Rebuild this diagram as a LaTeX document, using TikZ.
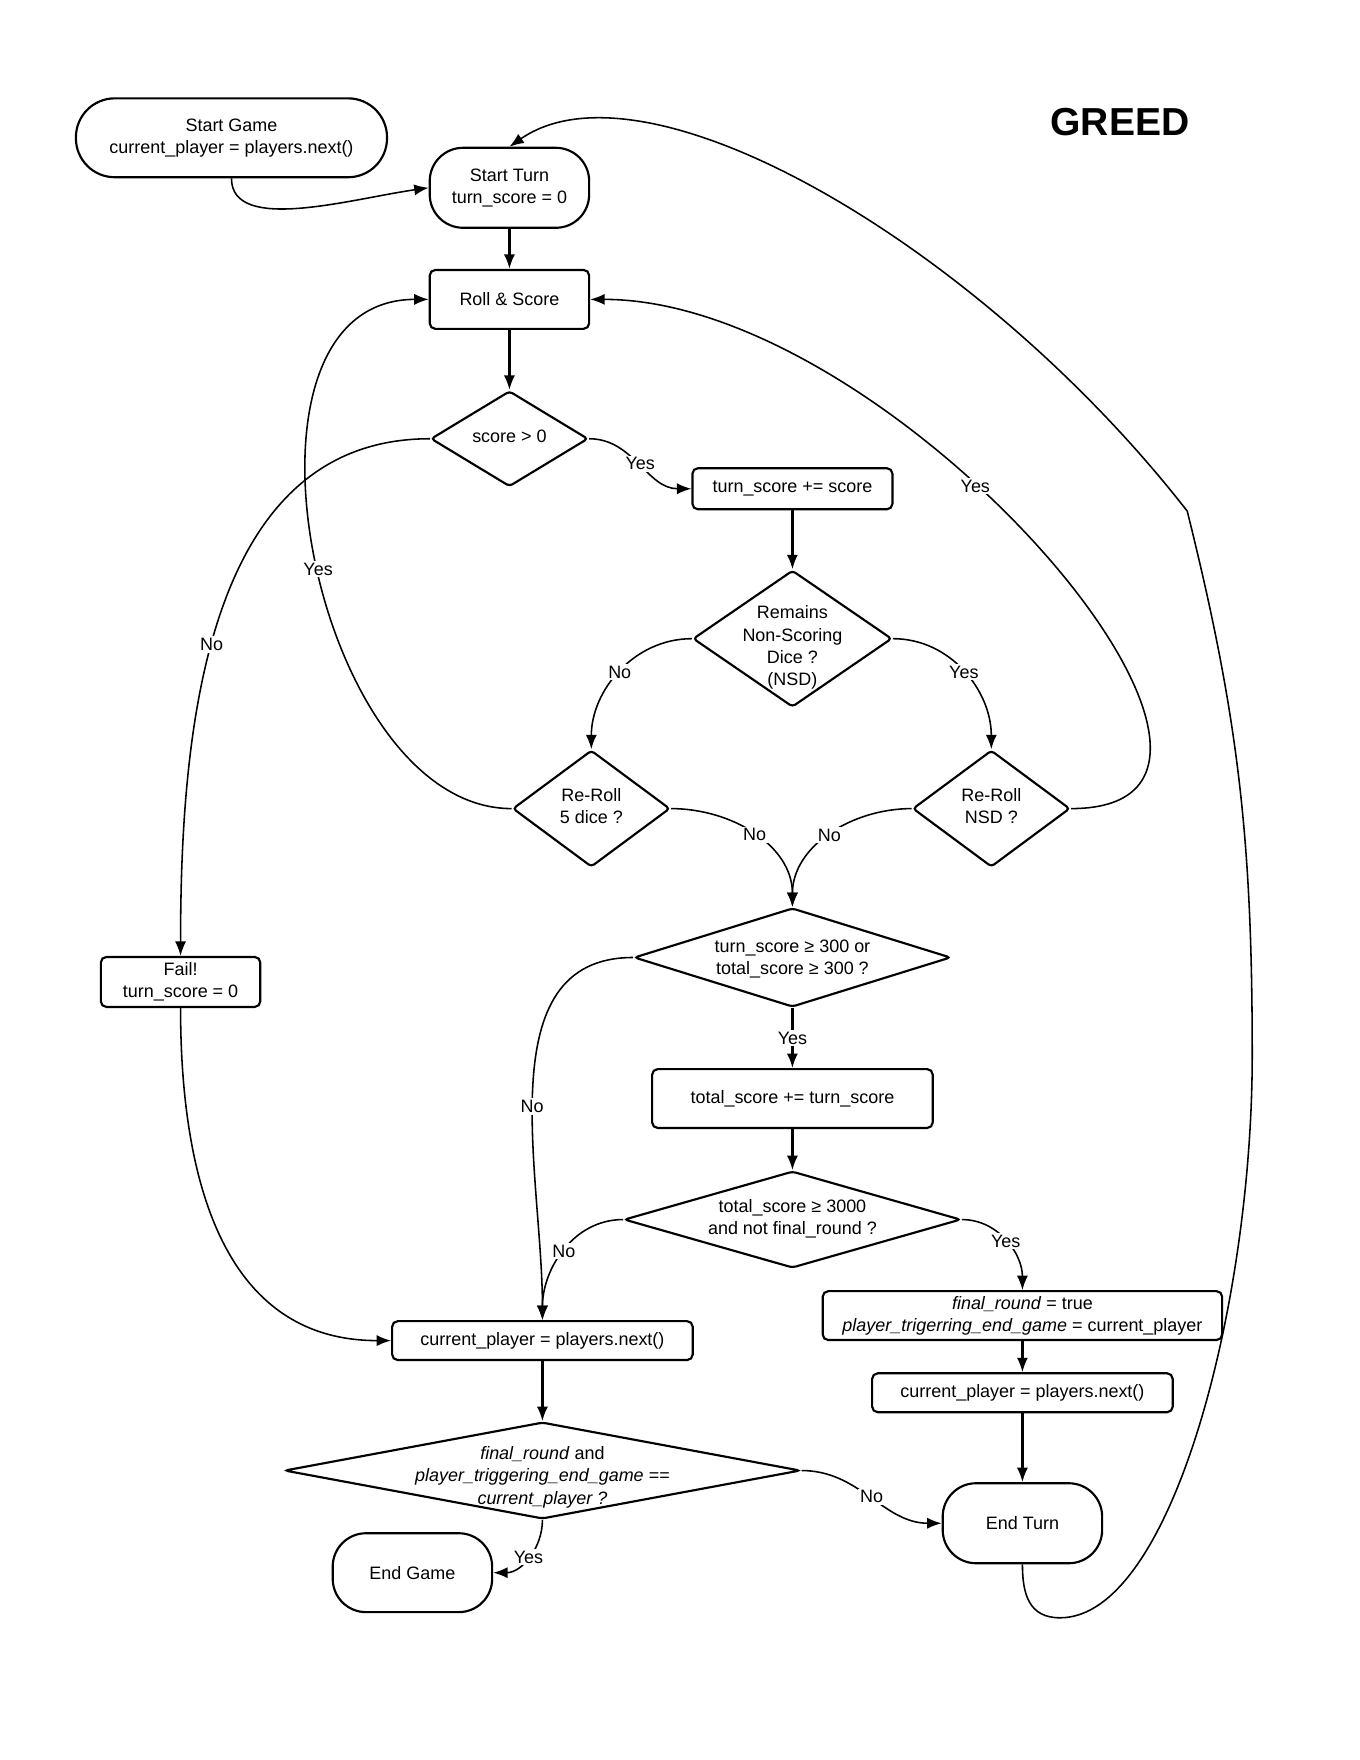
\documentclass[tikz,border=0pt]{standalone}
\usepackage{fontspec}
\setmainfont{Liberation Sans}
\usetikzlibrary{positioning,shapes.geometric,arrows.meta}
\tikzset{%
  process/.style={
    draw,
    line width=1.1pt,
    rounded corners=0.1cm,
    align=center,
    inner sep=1pt
  },
  terminal/.style={
    draw,
    line width=1.1pt,
    rounded corners=0.6cm,
    align=center,
    minimum width=2.87cm,
    minimum height=1.44cm
  },
  decision/.style={
    draw,
    diamond,
    line width=1.1pt,
    rounded corners=0.06cm,
    inner sep=0pt
  },
}
\newcommand{\dtxt}[2][-0.04cm]{\raisebox{#1}[0pt][0pt]{\makebox[0pt]{\parbox[c][0pt][c]{9cm}{\centering #2}}}}

\begin{document}
\begin{tikzpicture}[node distance=8mm,>={Latex[length=2.6mm,width=2mm]},font=\fontsize{9.2}{11.4}\selectfont]
      \tikzstyle{lbl}=[fill=white,inner sep=1pt]
      \tikzstyle{link}=[->,line width=1.1pt]
      \tikzstyle{flow}=[->,line width=0.8pt]

      \useasboundingbox (0,0) rectangle (24.48,-31.68);

      \node[terminal] (st) at (9.17,-3.38) {Start Turn\\turn\_score = 0};
      \node[terminal,minimum width=5.6cm,minimum height=1.42cm,rounded corners=0.7cm,left=0.73cm of st,yshift=0.9cm] (sg) {Start Game\\current\_player = players.next()};
      \node[font=\fontsize{20}{24}\selectfont\bfseries] (title) at (20.16,-2.2) {GREED};

      \node[process,minimum width=2.87cm,minimum height=1.06cm,below=0.72cm of st] (rs) {Roll \& Score};
      \node[decision,minimum width=2.83cm,minimum height=1.72cm,below=1.08cm of rs] (sc) {\dtxt{score > 0}};
      \node[process,minimum width=3.6cm,minimum height=0.74cm,right=1.84cm of sc,yshift=-0.9cm] (ts) {turn\_score += score};
      \node[decision,minimum width=3.58cm,minimum height=2.46cm,below=1.06cm of ts] (nsd) {\dtxt[-0.24cm]{Remains\\Non-Scoring\\Dice ?\\(NSD)}};
      \node[decision,minimum width=2.83cm,minimum height=2.1cm,below=0.74cm of nsd,xshift=-3.62cm] (r5) {\dtxt{Re-Roll\\5 dice ?}};
      \node[decision,minimum width=2.83cm,minimum height=2.1cm,below=0.74cm of nsd,xshift=3.58cm] (rn) {\dtxt{Re-Roll\\NSD ?}};
      \node[decision,minimum width=5.7cm,minimum height=1.78cm,below=3.58cm of nsd] (t3) {\dtxt[-0.1cm]{turn\_score ≥ 300 or\\total\_score ≥ 300 ?}};
      \node[process,minimum width=2.87cm,minimum height=0.9cm,left=6.69cm of t3,yshift=-0.44cm] (fail) {Fail!\\turn\_score = 0};
      \node[process,minimum width=5.05cm,minimum height=1.06cm,below=1.08cm of t3] (tt) {total\_score += turn\_score};
      \node[decision,minimum width=6.06cm,minimum height=1.74cm,below=0.74cm of tt] (t30) {\dtxt[-0.07cm]{total\_score ≥ 3000\\and not final\_round ?}};
      \node[process,minimum width=7.19cm,minimum height=0.88cm,below=0.38cm of t30,xshift=4.14cm] (fr) {\textit{final\_round} = true\\\textit{player\_trigerring\_end\_game} = current\_player};
      \node[process,minimum width=5.41cm,minimum height=0.7cm,below=0.56cm of fr] (cpr) {current\_player = players.next()};
      \node[terminal,below=1.24cm of cpr] (et) {End Turn};
      \node[process,minimum width=5.41cm,minimum height=0.7cm,below=0.92cm of t30,xshift=-4.5cm] (cpl) {current\_player = players.next()};
      \node[decision,minimum width=9.29cm,minimum height=1.74cm,below=1.08cm of cpl] (fg) {\dtxt[-0.2cm]{\textit{final\_round} and\\\textit{player\_triggering\_end\_game} ==\\\textit{current\_player ?}}};
      \node[terminal,minimum height=1.42cm,below=0.22cm of fg,xshift=-2.34cm] (eg) {End Game};

      \coordinate (loopb) at (19.08,-29.12);
      \coordinate (loopr) at (22.54,-19.0);
      \coordinate (loopk) at (21.37,-9.2);

      \draw[flow] (sg.south) .. controls +(0,-1) and +(-1.4,-0.2) .. (st.west);
      \draw[link] (st) -- (rs);
      \draw[link] (rs) -- (sc);
      \draw[flow] (sc.east) to[out=0,in=180] node[lbl] {Yes} (ts.west);
      \draw[link] (ts) -- (nsd);
      \draw[flow] (nsd.west) to[out=180,in=90] node[lbl] {No} (r5.north);
      \draw[flow] (nsd.east) to[out=0,in=90] node[lbl] {Yes} (rn.north);
      \draw[flow] (r5.west) .. controls +(-3.58,0) and +(-3.86,0) .. node[lbl,pos=0.48] {Yes} (rs.west);
      \draw[flow] (rn.east) .. controls +(4.65,0) and +(5.55,0) .. node[lbl,pos=0.59] {Yes} (rs.east);
      \draw[flow] (r5.east) to[out=0,in=90] node[lbl] {No} (t3.north);
      \draw[flow] (rn.west) to[out=180,in=90] node[lbl] {No} (t3.north);
      \draw[flow] (sc.west) to[out=180,in=90] node[lbl,pos=0.55] {No} (fail.north);
      \draw[flow] (fail.south) to[out=-90,in=180,looseness=1.1] (cpl.west);
      \draw[flow] (t3.west) to[out=180,in=90] node[lbl,pos=0.55] {No} (cpl.north);
      \draw[link] (t3) -- node[lbl] {Yes} (tt);
      \draw[link] (tt) -- (t30);
      \draw[flow] (t30.west) to[out=180,in=90] node[lbl] {No} (cpl.north);
      \draw[flow] (t30.east) to[out=0,in=90] node[lbl] {Yes} (fr.north);
      \draw[link] (fr) -- (cpr);
      \draw[link] (cpr) -- (et);
      \draw[link] (cpl) -- (fg);
      \draw[flow] (fg.south) to[out=-90,in=0] node[lbl] {Yes} (eg.east);
      \draw[flow] (fg.east) to[out=0,in=180] node[lbl] {No} (et.west);
      \draw[flow] (et.south) to[out=-90,in=180,looseness=1.2] (loopb) .. controls +(2,0) and +(0,-4.5) .. (loopr)
        to[out=90,in=-76] (loopk) .. controls +(-3.7,4.75) and +(2.48,1.72) .. (st.north);
  \end{tikzpicture}
\end{document}
